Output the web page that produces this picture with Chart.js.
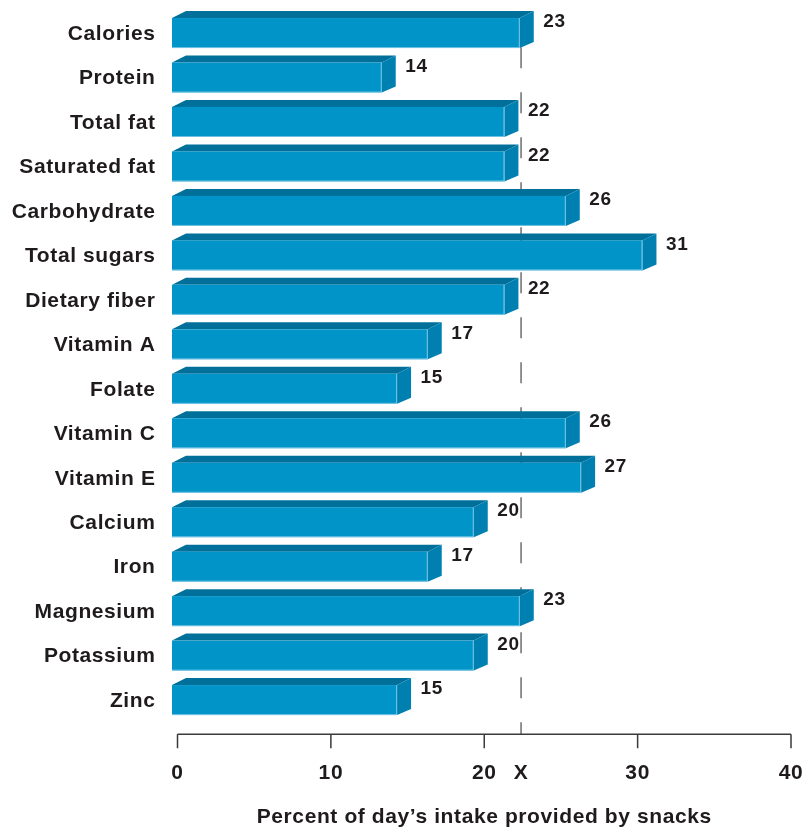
<!DOCTYPE html>
<html>
<head>
<meta charset="utf-8">
<script src="https://cdn.jsdelivr.net/npm/chart.js@4.4.1/dist/chart.umd.min.js"></script>
<style>
  html, body { margin: 0; padding: 0; background: #ffffff; }
  canvas { display: block; }
</style>
</head>
<body>
<canvas id="chart" width="804" height="830"></canvas>
<script>
// Share of the day's nutrient intake that comes from snacks (percent)
const categories = ['Calories', 'Protein', 'Total fat', 'Saturated fat', 'Carbohydrate',
  'Total sugars', 'Dietary fiber', 'Vitamin A', 'Folate', 'Vitamin C', 'Vitamin E',
  'Calcium', 'Iron', 'Magnesium', 'Potassium', 'Zinc'];
const snackShare = [23, 14, 22, 22, 26, 31, 22, 17, 15, 26, 27, 20, 17, 23, 20, 15];
const xTicks = [0, 10, 20, 30, 40];
const markValue = 22.4;      // position of the "X" reference line
const markLabel = 'X';
const axisTitle = 'Percent of day\u2019s intake provided by snacks';

const INK = '#1f1b1c';
const FRONT = '#0094c9';
const TOP = '#00709b';
const SIDE = '#0080b1';
const DX = 14, DY = 7;       // depth of the 3D boxes

Chart.defaults.font.family = '"Liberation Sans", Arial, Helvetica, sans-serif';

const boxBars = {
  id: 'boxBars',
  beforeDraw(chart) {
    chart.ctx.letterSpacing = '0.6px';
  },
  beforeDatasetsDraw(chart) {
    const { ctx, chartArea, scales: { x } } = chart;
    const axisY = chartArea.bottom + 13;
    const mx = x.getPixelForValue(markValue);
    // dashed reference line, running behind the bars
    ctx.save();
    ctx.strokeStyle = '#6d6e70';
    ctx.lineWidth = 1.5;
    ctx.setLineDash([21, 24]);
    ctx.lineDashOffset = 9;
    ctx.beginPath();
    ctx.moveTo(mx, axisY);
    ctx.lineTo(mx, chartArea.top + 36);
    ctx.stroke();
    ctx.restore();
    // horizontal axis with downward tick marks
    ctx.save();
    ctx.strokeStyle = '#3a3a3a';
    ctx.lineWidth = 1.5;
    ctx.beginPath();
    ctx.moveTo(x.getPixelForValue(xTicks[0]), axisY);
    ctx.lineTo(x.getPixelForValue(xTicks[xTicks.length - 1]), axisY);
    xTicks.forEach(v => {
      const px = x.getPixelForValue(v);
      ctx.moveTo(px, axisY);
      ctx.lineTo(px, axisY + 14);
    });
    ctx.stroke();
    ctx.restore();
  },
  afterDatasetsDraw(chart) {
    const { ctx } = chart;
    const meta = chart.getDatasetMeta(0);
    meta.data.forEach((el, i) => {
      const { x: vx, y: cy, base, height } = el.getProps(['x', 'y', 'base', 'height'], true);
      const xEnd = vx + 3.5;
      const L = base - 5.5;
      const R = xEnd - DX;
      const T = cy - height / 2 + 1;
      const B = cy + height / 2 + 1;
      ctx.save();
      // top face
      ctx.fillStyle = TOP;
      ctx.beginPath();
      ctx.moveTo(L, T);
      ctx.lineTo(L + DX, T - DY);
      ctx.lineTo(xEnd, T - DY);
      ctx.lineTo(R, T);
      ctx.closePath();
      ctx.fill();
      // side face, slightly foreshortened at the back
      ctx.fillStyle = SIDE;
      ctx.beginPath();
      ctx.moveTo(R, T);
      ctx.lineTo(xEnd, T - DY);
      ctx.lineTo(xEnd, B - DY + 1);
      ctx.lineTo(R, B);
      ctx.closePath();
      ctx.fill();
      // front face
      ctx.fillStyle = FRONT;
      ctx.fillRect(L, T, R - L, B - T);
      // soft highlights on the front edges
      ctx.strokeStyle = 'rgba(140,205,232,0.8)';
      ctx.lineWidth = 1;
      ctx.beginPath();
      ctx.moveTo(L, B - 0.5);
      ctx.lineTo(R, B - 0.5);
      ctx.moveTo(R - 0.5, T);
      ctx.lineTo(R - 0.5, B);
      ctx.stroke();
      // value label
      ctx.fillStyle = INK;
      ctx.font = 'bold 19px "Liberation Sans", Arial, Helvetica, sans-serif';
      ctx.textAlign = 'left';
      ctx.textBaseline = 'middle';
      ctx.fillText(String(snackShare[i]), xEnd + 9.5, cy - 10);
      ctx.restore();
    });
  }
};

new Chart(document.getElementById('chart'), {
  type: 'bar',
  data: {
    labels: categories,
    datasets: [{
      data: snackShare,
      backgroundColor: 'rgba(0,0,0,0)',
      borderWidth: 0,
      barThickness: 30
    }]
  },
  options: {
    indexAxis: 'y',
    responsive: false,
    animation: false,
    devicePixelRatio: 1,
    layout: { padding: { top: 9.8, right: 13, bottom: 0, left: 0 } },
    plugins: { legend: { display: false }, tooltip: { enabled: false } },
    scales: {
      y: {
        grid: { display: false, drawTicks: false },
        border: { display: false },
        ticks: {
          color: INK,
          padding: 22,
          labelOffset: 2,
          font: { size: 21, weight: 'bold' }
        },
        afterFit(scale) {
          scale.width = 177.5;
          scale.paddingTop = 0;
          scale.paddingBottom = 0;
        }
      },
      x: {
        min: xTicks[0],
        max: xTicks[xTicks.length - 1],
        grid: { display: false, drawTicks: false },
        border: { display: false },
        afterBuildTicks(scale) {
          scale.ticks = xTicks.concat([markValue]).sort((a, b) => a - b).map(v => ({ value: v }));
        },
        ticks: {
          autoSkip: false,
          maxRotation: 0,
          color: INK,
          padding: 39,
          font: { size: 21, weight: 'bold' },
          callback(value) { return value === markValue ? markLabel : value; }
        },
        title: {
          display: true,
          text: axisTitle,
          color: INK,
          font: { size: 21, weight: 'bold' },
          padding: { top: 0, bottom: 0 }
        },
        afterFit(scale) {
          scale.height = 108.7;
          scale.paddingLeft = 0;
          scale.paddingRight = 0;
        }
      }
    }
  },
  plugins: [boxBars]
});
</script>
</body>
</html>
